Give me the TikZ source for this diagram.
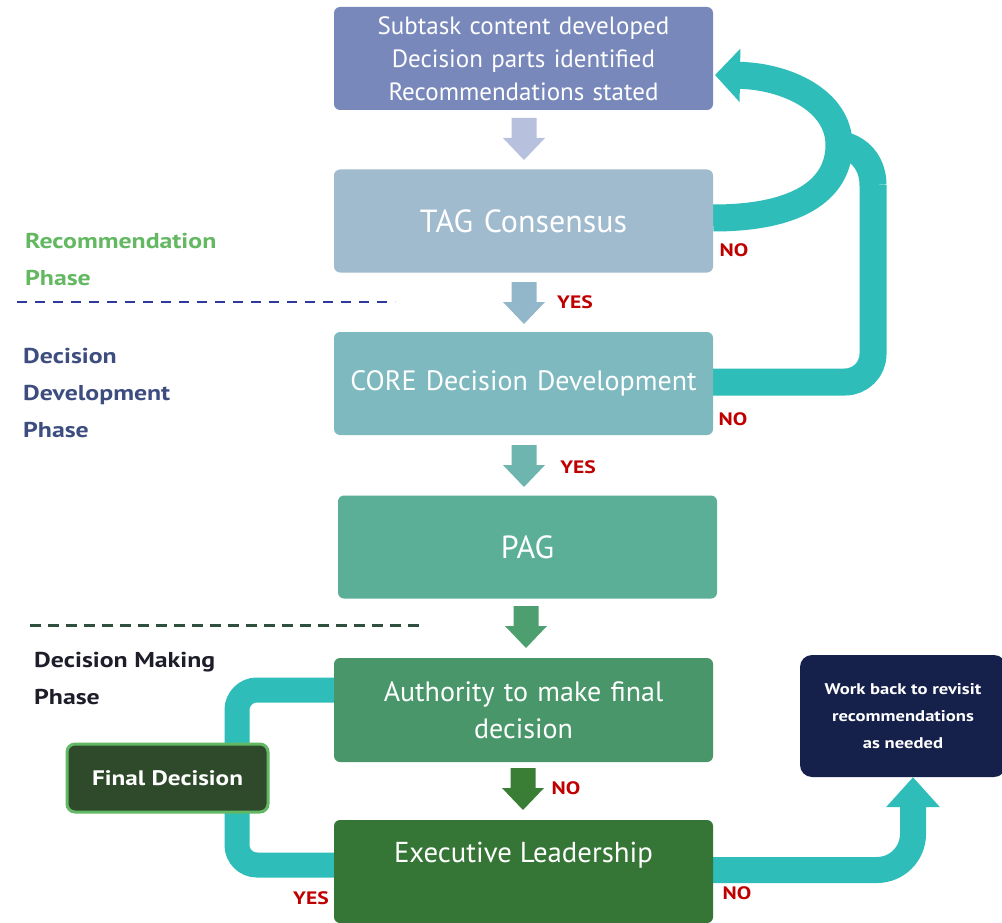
\documentclass[tikz,border=0pt]{standalone}
\usepackage{fontspec}
\setmainfont{PT Sans}
\newfontfamily\widebold{PT Sans}[FakeStretch=1.2]
\usetikzlibrary{arrows.meta,backgrounds}
\definecolor{cTop}{HTML}{7888BA}
\definecolor{cTag}{HTML}{A0BACE}
\definecolor{cCore}{HTML}{7DB9BF}
\definecolor{cPag}{HTML}{5BAF97}
\definecolor{cAuth}{HTML}{489669}
\definecolor{cExec}{HTML}{357535}
\definecolor{cFinal}{HTML}{2E4A2B}
\definecolor{cFinalB}{HTML}{62B865}
\definecolor{cWork}{HTML}{15204B}
\definecolor{cTeal}{HTML}{2EBDB9}
\definecolor{cA1}{HTML}{B7C1DE}
\definecolor{cA2}{HTML}{93B7CA}
\definecolor{cA3}{HTML}{6EB5B0}
\definecolor{cA4}{HTML}{4E9F6F}
\definecolor{cA5}{HTML}{3A7E36}
\definecolor{cRed}{HTML}{C00000}
\definecolor{cGreenL}{HTML}{63B861}
\definecolor{cBlueL}{HTML}{3D4D80}
\definecolor{cDarkL}{HTML}{1E1E2A}
\definecolor{cDashB}{HTML}{2E3A9E}
\definecolor{cDashG}{HTML}{2F4F3F}
\newcommand{\blockdown}[3]{%
  \fill[#3] (#1-12.5,#2) -- (#1+12.5,#2) -- (#1+12.5,#2+20) -- (#1+21,#2+20)
    -- (#1,#2+42) -- (#1-21,#2+20) -- (#1-12.5,#2+20) -- cycle;}
\begin{document}
\begin{tikzpicture}[x=1pt,y=-1pt,
  flowbox/.style={rounded corners=6pt, inner sep=0pt, text=white, align=center,
    minimum width=379pt, minimum height=103pt, text width=379pt},
  redlab/.style={text=cRed, font=\widebold\bfseries\fontsize{18}{20}\selectfont, inner sep=0pt},
  phaselab/.style={anchor=west, align=left, inner sep=0pt, font=\widebold\bfseries\fontsize{21.5}{37}\selectfont},
  tealband/.style={draw=cTeal, line width=27pt},
]
\useasboundingbox (0,0) rectangle (1002,923);

\node[flowbox, fill=cTop, font=\fontsize{25}{33}\selectfont] (top) at (523.5,58.5)
  {Subtask content developed\\Decision parts identified\\Recommendations stated};
\node[flowbox, fill=cTag, font=\fontsize{32}{36}\selectfont] (tag) at (523.5,221) {TAG Consensus};
\node[flowbox, fill=cCore, font=\fontsize{28}{36}\selectfont] (core) at (523.5,383.5) {CORE Decision Development};
\node[flowbox, fill=cPag, font=\fontsize{32}{36}\selectfont] (pag) at (527.5,547) {PAG};
\node[flowbox, fill=cAuth, font=\fontsize{28}{37}\selectfont, minimum height=104pt] (auth) at (523.5,710) {Authority to make final\\decision};
\node[flowbox, fill=cExec, minimum height=103pt] (exec) at (523.5,871.5) {};
\node[text=white, font=\fontsize{28.8}{36}\selectfont, inner sep=0pt] (execlab) at (523.5,855) {Executive Leadership};

\node[rounded corners=8pt, fill=cFinal, draw=cFinalB, line width=3pt, minimum width=201pt,
  minimum height=68pt, text=white, inner sep=0pt, font=\widebold\bfseries\fontsize{21}{24}\selectfont]
  (final) at (167.5,778) {Final Decision};
\node[rounded corners=12pt, fill=cWork, minimum width=206pt, minimum height=122pt, text=white,
  inner sep=0pt, align=center, font=\widebold\bfseries\fontsize{15.5}{27}\selectfont]
  (work) at (903,716) {Work back to revisit\\recommendations\\as needed};

% teal connectors on background
\begin{scope}[on background layer]
  \fill[white] (0,0) rectangle (1002,923);
  \coordinate (loopR) at (873,185);
  \draw[tealband, rounded corners=28pt] ([yshift=1.5pt]core.east) -- (873,382) -- (loopR);
  \draw[tealband] (loopR) .. controls (873,162) and (858,148) .. (842,145);
  \draw[tealband, -{Triangle[length=25pt,width=52pt]}] ([yshift=3pt]tag.east)
    .. controls (805,218) and (839,185) .. (839,145)
    .. controls (839,100) and (785,76) .. (715,75);
  \draw[draw=cTeal, line width=25pt, rounded corners=20pt]
    ([yshift=20pt]auth.west) -- (237,690) -- (237,865) -- ([yshift=6.5pt]exec.west);
  \draw[draw=cTeal, line width=26pt, rounded corners=36pt, -{Triangle[length=30pt,width=52pt]}]
    ([yshift=1.5pt]exec.east) -- (913,870) -- (work.south -| 913,0);
\end{scope}

% block arrows
\blockdown{524}{118}{cA1}
\blockdown{524}{282}{cA2}
\blockdown{524}{445}{cA3}
\blockdown{526}{606}{cA4}
\blockdown{523}{768}{cA5}

% labels
\node[redlab] (yes1) at (575,302) {YES};
\node[redlab] (yes2) at (578,467) {YES};
\node[redlab] (no1) at (734,250) {NO};
\node[redlab] (no2) at (733,419) {NO};
\node[redlab] (no3) at (566,788) {NO};
\node[redlab] (yes3) at (311,898) {YES};
\node[redlab] (no4) at (737,893) {NO};

\node[phaselab, text=cGreenL] (recph) at (25,259.5) {Recommendation\\Phase};
\node[phaselab, text=cBlueL] (devph) at (23,393) {Decision\\Development\\Phase};
\node[phaselab, text=cDarkL] (makph) at (34,678.5) {Decision Making\\Phase};

\draw[cDashB, line width=2.5pt, dash pattern=on 10pt off 8pt] (17,302) -- (395,302);
\draw[cDashG, line width=3pt, dash pattern=on 11pt off 7pt] (30,625) -- (420,625);
\end{tikzpicture}
\end{document}
